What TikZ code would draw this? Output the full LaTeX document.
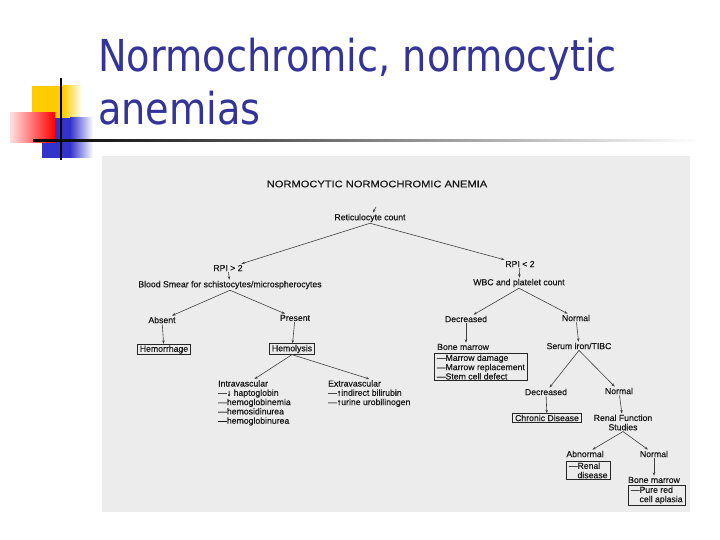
\documentclass[tikz,border=0pt]{standalone}
\usepackage{fontspec}
\usetikzlibrary{arrows.meta,calc}
\newfontfamily\titlefont[FakeStretch=0.87]{DejaVu Sans}
\newfontfamily\scanfont[BoldFont={Liberation Sans}, BoldFeatures={FakeBold=0.5}]{Liberation Sans}
\newfontfamily\hdrfont[FakeStretch=1.17, BoldFont={Liberation Sans}, BoldFeatures={FakeStretch=1.17, FakeBold=0.4}]{Liberation Sans}
\definecolor{titleblue}{RGB}{51,51,153}
\definecolor{deckyellow}{RGB}{255,204,0}
\definecolor{deckblue}{RGB}{51,51,204}
\definecolor{scangrey}{RGB}{236,236,236}
\tikzset{
  ttl/.style={anchor=base west, inner sep=0pt, text=titleblue, font=\titlefont\fontsize{44}{53}\selectfont},
  lbl/.style={font=\scanfont\bfseries\fontsize{8.7}{9.3}\selectfont, text=black!90, inner sep=1pt},
  boxed/.style={lbl, draw=black!85, line width=0.7pt, inner xsep=2.5pt, inner ysep=1.2pt},
  conn/.style={draw=black!75, line width=0.6pt, -{Stealth[length=3.5pt,width=2.6pt]}}
}

\begin{document}
\begin{tikzpicture}[x=1pt,y=-1pt]
			\useasboundingbox (0,0) rectangle (720,540);
			%%%%% TITLE %%%%%
			
			\fill[deckyellow] (32,86) rectangle (63,118);
			\shade[left color=deckyellow, right color=white] (63,86) rectangle (82,118);
			\fill[deckblue] (42,118) rectangle (70,158);
			\shade[left color=deckblue, right color=white] (70,118) rectangle (93,158);
			\shade[left color=red!12, right color=red] (10,113) rectangle (55,143);
			\draw[line width=2.5pt] (61,78) -- (61,160);
			\shade[left color=black, right color=white] (33,140) rectangle (700,142);
			
			\node[ttl] (title1) at (98,72) {Normochromic, normocytic};
			\node[ttl] (title2) at (98,125) {anemias};
			
			%%%%% SCAN %%%%%
			
			\fill[scangrey] (102,156) rectangle (690,512);
			
			\node[font=\hdrfont\bfseries\fontsize{9.5}{11}\selectfont, text=black!90] (hdr) at (377,184) {NORMOCYTIC NORMOCHROMIC ANEMIA};
			\coordinate (top) at (376,207);
			\node[lbl] (ret) at (370,218) {Reticulocyte count};
			
			% left branch
			\node[lbl] (rpiL) at (228,268) {RPI > 2};
			\node[lbl] (smear) at (230,285) {Blood Smear for schistocytes/microspherocytes};
			\node[lbl] (absent) at (162,320) {Absent};
			\node[lbl] (present) at (295,318) {Present};
			\node[boxed] (hemorr) at (164,349.5) {Hemorrhage};
			\node[boxed] (hemol) at (292,349) {Hemolysis};
			\node[lbl, anchor=north west, align=left] (intra) at (217,379) {Intravascular\\\textemdash↓ haptoglobin\\\textemdash hemoglobinemia\\\textemdash hemosidinurea\\\textemdash hemoglobinurea};
			\node[lbl, anchor=north west, align=left] (extra) at (327,379) {Extravascular\\\textemdash↑indirect bilirubin\\\textemdash↑urine urobilinogen};
			
			% right branch
			\node[lbl] (rpiR) at (520,264) {RPI < 2};
			\node[lbl] (wbc) at (519,283) {WBC and platelet count};
			\node[lbl] (decL) at (466,319) {Decreased};
			\node[lbl] (normL) at (576,318) {Normal};
			\node[lbl, anchor=west] (bm1) at (436,347) {Bone marrow};
			\node[boxed, anchor=north west, align=left] (bm1box) at (434,353) {\textemdash Marrow damage\\\textemdash Marrow replacement\\\textemdash Stem cell defect};
			\node[lbl] (serum) at (579,346) {Serum iron/TIBC};
			\node[lbl] (decM) at (546,392) {Decreased};
			\node[lbl] (normM) at (619,391) {Normal};
			\node[boxed] (chronic) at (547,418) {Chronic Disease};
			\node[lbl, align=center] (renal) at (623,422.5) {Renal Function\\Studies};
			\node[lbl] (abn) at (585,454) {Abnormal};
			\node[boxed, anchor=north west, align=left] (abnbox) at (566,461) {\textemdash Renal\\\phantom{\textemdash}disease};
			\node[lbl] (normR) at (654,454) {Normal};
			\node[lbl] (bm2) at (654,480) {Bone marrow};
			\node[boxed, anchor=north west, align=left] (bm2box) at (628,485) {\textemdash Pure red\\\phantom{\textemdash}cell aplasia};
			
			% connectors
			\draw[conn] (top) -- (ret);
			\draw[conn] (ret.south) -- (rpiL);
			\draw[conn] (ret.south) -- (rpiR);
			\draw[conn] (rpiL) -- (smear);
			\draw[conn] (smear.south) -- (absent);
			\draw[conn] (smear.south) -- (present);
			\draw[conn] (absent) -- (hemorr);
			\draw[conn] (present) -- (hemol);
			\draw[conn] (hemol.south) -- (intra.north);
			\draw[conn] (hemol.south) -- (extra.north);
			\draw[conn] (rpiR) -- (wbc);
			\draw[conn] (wbc.south) -- (decL);
			\draw[conn] (wbc.south) -- (normL);
			\draw[conn] (decL) -- (decL.south |- bm1.north);
			\draw[conn] (normL) -- (serum);
			\draw[conn] (serum.south) -- (decM);
			\draw[conn] (serum.south) -- (normM);
			\draw[conn] (decM) -- (chronic);
			\draw[conn] (normM) -- (renal);
			\draw[conn] (renal.south) -- (abn);
			\draw[conn] (renal.south) -- (normR);
			\draw[conn] (normR) -- (bm2);
			
			%%%%% END %%%%%
\end{tikzpicture}
\end{document}
